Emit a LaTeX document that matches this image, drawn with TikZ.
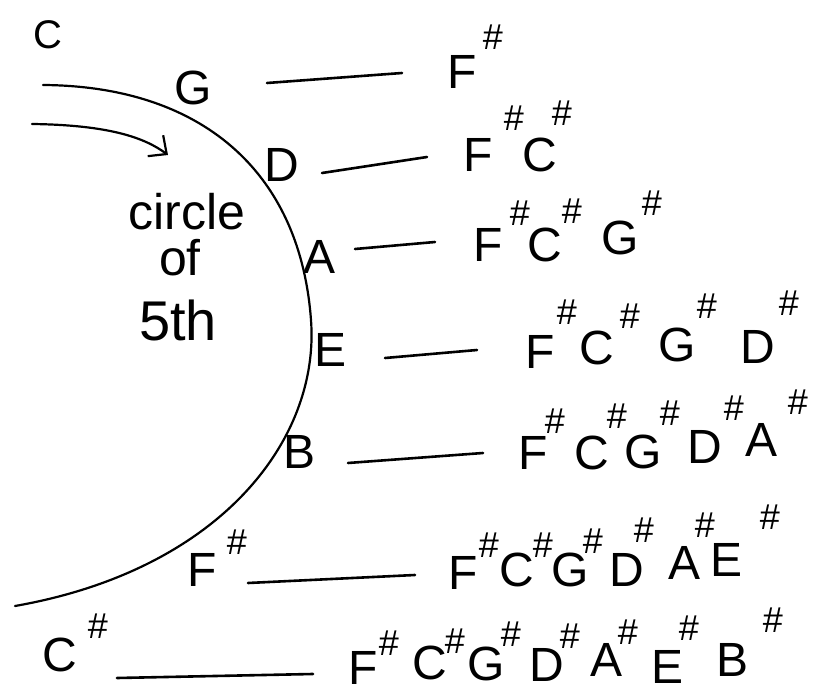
\documentclass[tikz,border=0pt]{standalone}
\usepackage{fontspec}
\setmainfont{Liberation Sans}
\usetikzlibrary{arrows.meta}

\begin{document}
\begin{tikzpicture}[x=1pt, y=-1pt, line width=2.2pt, line cap=round,
	nt/.style={font=\fontsize{48}{48}\selectfont, inner sep=0pt},
	sh/.style={font=\fontsize{36}{36}\selectfont, inner sep=0pt},
	wd/.style={font=\fontsize{50}{50}\selectfont, inner sep=0pt},
	bar/.style={line width=2.6pt}]
	\useasboundingbox (0,0) rectangle (831,698);
	% circle of fifths
	\draw (43,85) .. controls (200,86) and (300,170) .. (311,320)
		.. controls (320,440) and (220,570) .. (15,606);
	\draw[-{Straight Barb[length=14pt, width=26pt]}] (32,124) .. controls (110,125) and (145,138) .. (168,155);
	\node[nt, font=\fontsize{40}{40}\selectfont] (C) at (48,35) {C};
	\node[wd] (w1) at (187,212) {circle};
	\node[wd] (w2) at (180,258) {of};
	\node[wd, font=\fontsize{56}{56}\selectfont] (w3) at (178,320) {5th};
	% keys round the circle
	\node[nt] (G) at (193,88) {G};
	\node[nt] (D) at (282,165) {D};
	\node[nt] (A) at (320,257) {A};
	\node[nt] (E) at (331,350) {E};
	\node[nt] (B) at (300,452) {B};
	\node[nt] (Fs) at (202,570) {F}; \node[sh] (Fs') at (237,542) {\#};
	\node[nt] (Cs) at (60,655) {C}; \node[sh] (Cs') at (98,626) {\#};
	% dashes
	\coordinate (a1) at (267,83); \coordinate (b1) at (402,73);
	\coordinate (a2) at (322,173); \coordinate (b2) at (427,157);
	\coordinate (a3) at (355,249); \coordinate (b3) at (435,242);
	\coordinate (a4) at (385,358); \coordinate (b4) at (477,350);
	\coordinate (a5) at (348,463); \coordinate (b5) at (483,453);
	\coordinate (a6) at (248,583); \coordinate (b6) at (415,575);
	\coordinate (a7) at (117,678); \coordinate (b7) at (313,674);
	\draw[bar] (a1) -- (b1);
	\draw[bar] (a2) -- (b2);
	\draw[bar] (a3) -- (b3);
	\draw[bar] (a4) -- (b4);
	\draw[bar] (a5) -- (b5);
	\draw[bar] (a6) -- (b6);
	\draw[bar] (a7) -- (b7);
	% sharps, row by row
	\node[nt] (g1) at (462,72) {F}; \node[sh] (g1') at (493,37) {\#};
	\node[nt] (d1) at (478,155) {F}; \node[sh] (d1') at (514,118) {\#};
	\node[nt] (d2) at (540,155) {C}; \node[sh] (d2') at (562,113) {\#};
	\node[nt] (a1n) at (488,245) {F}; \node[sh] (a1') at (520,213) {\#};
	\node[nt] (a2n) at (545,245) {C}; \node[sh] (a2') at (572,211) {\#};
	\node[nt] (a3n) at (620,238) {G}; \node[sh] (a3') at (652,203) {\#};
	\node[nt] (e1) at (540,352) {F}; \node[sh] (e1') at (567,312) {\#};
	\node[nt] (e2) at (597,348) {C}; \node[sh] (e2') at (630,316) {\#};
	\node[nt] (e3) at (677,345) {G}; \node[sh] (e3') at (707,306) {\#};
	\node[nt] (e4) at (758,347) {D}; \node[sh] (e4') at (789,303) {\#};
	\node[nt] (b1n) at (533,453) {F}; \node[sh] (b1') at (555,421) {\#};
	\node[nt] (b2n) at (592,453) {C}; \node[sh] (b2') at (617,416) {\#};
	\node[nt] (b3n) at (643,452) {G}; \node[sh] (b3') at (670,413) {\#};
	\node[nt] (b4n) at (705,447) {D}; \node[sh] (b4') at (734,408) {\#};
	\node[nt] (b5n) at (762,440) {A}; \node[sh] (b5') at (798,402) {\#};
	\node[nt] (f1) at (463,573) {F}; \node[sh] (f1') at (489,545) {\#};
	\node[nt] (f2) at (517,570) {C}; \node[sh] (f2') at (543,545) {\#};
	\node[nt] (f3) at (570,570) {G}; \node[sh] (f3') at (593,541) {\#};
	\node[nt] (f4) at (627,570) {D}; \node[sh] (f4') at (644,530) {\#};
	\node[nt] (f5) at (685,563) {A}; \node[sh] (f5') at (705,525) {\#};
	\node[nt] (f6) at (727,560) {E}; \node[sh] (f6') at (770,517) {\#};
	\node[nt] (c1) at (363,668) {F}; \node[sh] (c1') at (389,643) {\#};
	\node[nt] (c2) at (430,663) {C}; \node[sh] (c2') at (455,641) {\#};
	\node[nt] (c3) at (486,664) {G}; \node[sh] (c3') at (511,634) {\#};
	\node[nt] (c4) at (547,665) {D}; \node[sh] (c4') at (570,636) {\#};
	\node[nt] (c5) at (607,660) {A}; \node[sh] (c5') at (628,632) {\#};
	\node[nt] (c6) at (668,667) {E}; \node[sh] (c6') at (689,628) {\#};
	\node[nt] (c7) at (733,660) {B}; \node[sh] (c7') at (773,620) {\#};
\end{tikzpicture}
\end{document}
